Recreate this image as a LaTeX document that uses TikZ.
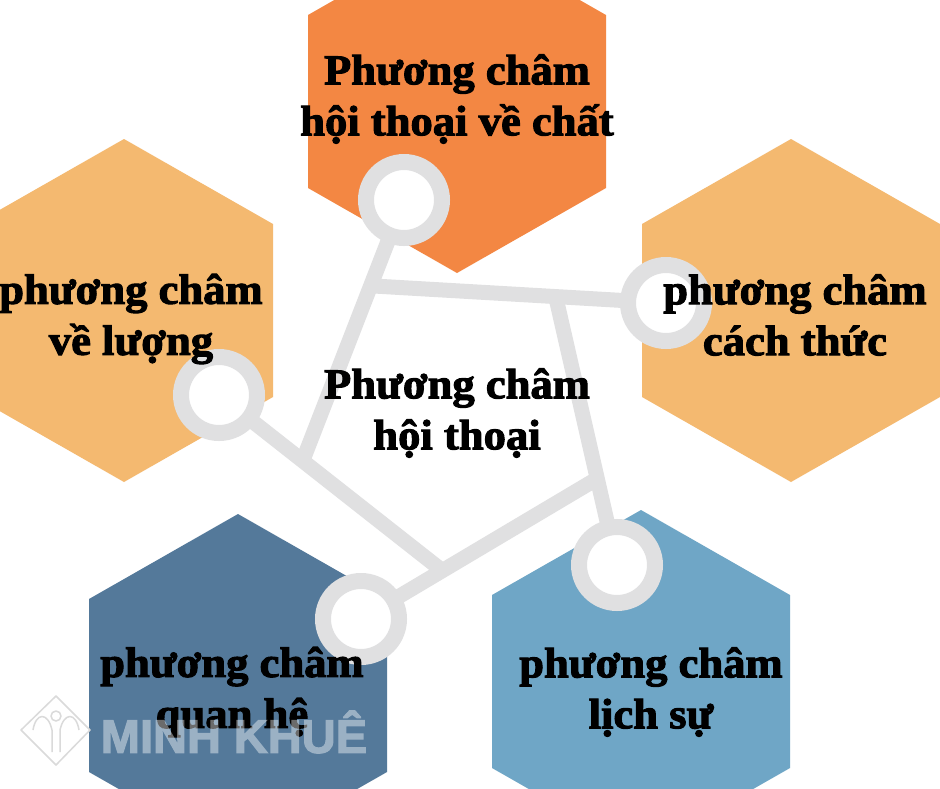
\documentclass[tikz,border=0pt]{standalone}
\usepackage{fontspec}
\setmainfont{Liberation Serif}[BoldFeatures={FakeBold=2.4,FakeStretch=1.05}]
\setsansfont{Liberation Sans}[BoldFeatures={FakeBold=2.5}]
\pgfdeclarelayer{hexlayer}
\pgfdeclarelayer{connlayer}
\pgfsetlayers{hexlayer,connlayer,main}
\definecolor{hexorange}{HTML}{F38743}
\definecolor{hexsand}{HTML}{F4B970}
\definecolor{hexdark}{HTML}{54799A}
\definecolor{hexlight}{HTML}{6FA6C6}
\definecolor{netgray}{HTML}{E0E0E1}
\definecolor{logogray}{HTML}{DADADA}
\tikzset{
  ring/.style={circle,draw=netgray,line width=16pt,fill=white,minimum size=76pt,inner sep=0pt},
  link/.style={draw=netgray,line width=15pt},
  lab/.style={font=\fontsize{42.5}{51}\selectfont\bfseries,align=center,text=black,inner sep=0pt},
  logoline/.style={draw=logogray,line width=1.5pt,line join=round},
}
\newcommand{\hexat}[3]{% x of centre, y of upper apex, colour
  \fill[#3] (#1,#2) -- ++(149,85) -- ++(0,173) -- ++(-149,85) -- ++(-149,-85) -- ++(0,-173) -- cycle;}
\begin{document}
\begin{tikzpicture}[x=1pt,y=-1pt]
\useasboundingbox (0,0) rectangle (940,788);
\clip (0,0) rectangle (940,788);
\begin{pgfonlayer}{hexlayer}
\fill[white] (0,0) rectangle (940,788);
\hexat{457}{-70}{hexorange}
\hexat{124}{139}{hexsand}
\hexat{791}{139}{hexsand}
\hexat{238}{514}{hexdark}
\hexat{641}{510}{hexlight}
\end{pgfonlayer}
\node[ring] (rtop) at (404,200) {};
\node[ring] (rleft) at (219,395) {};
\node[ring] (rright) at (666,303) {};
\node[ring] (rbl) at (361,619) {};
\node[ring] (rbr) at (617,565) {};
\coordinate (hubA) at (303,460);
\coordinate (hubB) at (374,286);
\coordinate (hubC) at (556,298);
\coordinate (hubD) at (444,572);
\coordinate (hubE) at (600,477);
\begin{pgfonlayer}{connlayer}
\draw[link] (rtop.center) -- (hubA);
\draw[link] (hubB) -- (rright.center);
\draw[link] (hubC) -- (rbr.center);
\draw[link] (rleft.center) -- (hubD);
\draw[link] (rbl.center) -- (hubE);
\end{pgfonlayer}
\node[lab] (t1) at (457,99) {Phương châm\\hội thoại về chất};
\node[lab] (t2) at (131,319) {phương châm\\về lượng};
\node[lab] (t3) at (795,315) {phương châm\\cách thức};
\node[lab] (t4) at (457,413) {Phương châm\\hội thoại};
\node[lab] (t5) at (232,692) {phương châm\\quan hệ};
\node[lab] (t6) at (651,692) {phương châm\\lịch sự};
\begin{scope}[transparency group,opacity=0.42]
\node[font=\sffamily\bfseries\fontsize{47}{47}\selectfont,text=white,inner sep=0pt] (wm) at (234,732) {MINH KHUÊ};
\end{scope}
\draw[logoline] (56,696) -- (90,730) -- (56,765) -- (21,730) -- cycle;
\draw[logoline] (33,730) .. controls (36,712) and (48,712) .. (52,730) -- (52,752);
\draw[logoline] (60,752) -- (60,730) .. controls (64,712) and (76,712) .. (79,730);
\draw[logoline] (56,716) circle (5pt);
\end{tikzpicture}
\end{document}
